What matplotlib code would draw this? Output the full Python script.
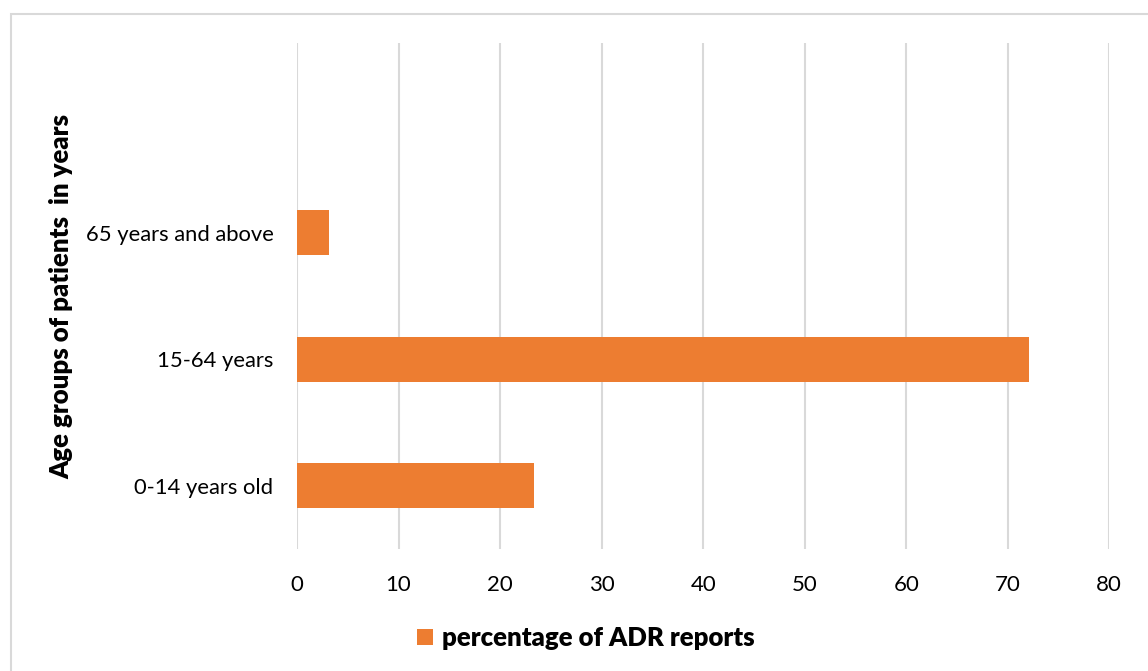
import numpy as np
import matplotlib.pyplot as plt
from matplotlib.patches import Rectangle

# data (bottom to top, last slot is empty in the original)
categories = ["0-14 years old", "15-64 years", "65 years and above", ""]
percent = [23.3, 72.1, 3.2, np.nan]
xticks = [0, 10, 20, 30, 40, 50, 60, 70, 80]

bar_color = "#ED7D31"
grid_color = "#D9D9D9"

plt.rcParams['font.family'] = ['Lato', 'DejaVu Sans']

fig = plt.figure(figsize=(11.48, 6.71), dpi=100)
ax = fig.add_axes([297/1148, 1 - 549/671, (1109.3 - 297)/1148, (549 - 43)/671])

y = np.arange(len(categories))
ax.barh(y, percent, height=0.355, color=bar_color, label="percentage of ADR reports", zorder=3)

ax.set_xlim(0, 80)
ax.set_ylim(-0.5, len(categories) - 0.5)
ax.set_xticks(xticks)
ax.set_xticklabels([str(t) for t in xticks], fontsize=16)
ax.set_yticks(y)
ax.set_yticklabels(categories, fontsize=15.8)
ax.tick_params(axis='both', length=0)
ax.tick_params(axis='x', pad=19)
ax.tick_params(axis='y', pad=17)

ax.grid(axis='x', color=grid_color, linewidth=1.5, zorder=0)
for s in ax.spines.values():
    s.set_visible(False)

ax.set_ylabel("Age groups of patients  in years", fontsize=18.5, fontweight='heavy')
ax.yaxis.set_label_coords(-(297 - 73)/812.3, 0.5)

fig.legend(loc='center', bbox_to_anchor=(586/1148, 1 - 638/671), frameon=False,
           prop={'size': 18.5, 'weight': 'heavy'}, handlelength=0.62, handleheight=0.62,
           handletextpad=0.35)

# light border around the chart area
fig.patches.append(Rectangle((11/1148, -0.1), 1.2, 1 - 14/671 + 0.1, transform=fig.transFigure,
                             fill=False, edgecolor=grid_color, linewidth=1.5))

fig.savefig("out.png", dpi=100)
